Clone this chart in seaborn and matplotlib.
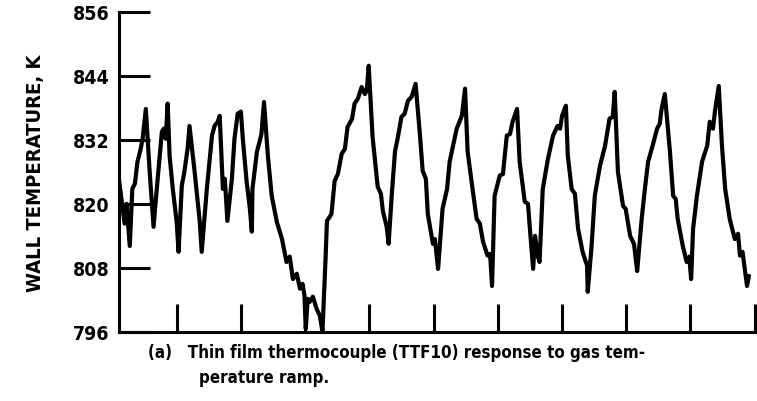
import numpy as np
import pandas as pd
import seaborn as sns
import matplotlib.pyplot as plt

sns.set_theme(style="white")
plt.rcParams["font.family"] = ["DejaVu Sans"]
plt.rcParams["font.stretch"] = "condensed"
plt.rcParams["text.color"] = "black"

# time axis (tick units, unlabeled) and wall temperature
time = [
    0.10, 0.14, 0.19, 0.22, 0.27, 0.31, 0.35, 0.39, 0.44, 0.47, 0.52, 0.58, 0.64, 0.70,
    0.77, 0.80, 0.83, 0.86, 0.89, 0.94, 1.00, 1.03, 1.08, 1.12, 1.17, 1.20, 1.28, 1.36,
    1.39, 1.47, 1.55, 1.59, 1.64, 1.67, 1.72, 1.75, 1.79, 1.86, 1.90, 1.95, 2.00, 2.03,
    2.09, 2.14, 2.17, 2.18, 2.25, 2.29, 2.32, 2.36, 2.42, 2.48, 2.56, 2.64, 2.71, 2.76,
    2.81, 2.87, 2.92, 2.96, 2.99, 3.01, 3.04, 3.07, 3.12, 3.18, 3.23, 3.27, 3.32, 3.34,
    3.41, 3.46, 3.51, 3.57, 3.62, 3.66, 3.73, 3.77, 3.82, 3.88, 3.93, 3.96, 3.99, 4.05,
    4.13, 4.18, 4.21, 4.27, 4.30, 4.35, 4.40, 4.44, 4.50, 4.55, 4.60, 4.66, 4.72, 4.79,
    4.83, 4.88, 4.91, 4.99, 5.02, 5.07, 5.14, 5.21, 5.25, 5.31, 5.36, 5.44, 5.49, 5.53,
    5.60, 5.67, 5.72, 5.77, 5.84, 5.88, 5.91, 5.95, 6.03, 6.08, 6.14, 6.19, 6.23, 6.30,
    6.34, 6.42, 6.47, 6.50, 6.55, 6.58, 6.62, 6.65, 6.70, 6.78, 6.86, 6.93, 6.97, 7.00,
    7.06, 7.09, 7.15, 7.20, 7.25, 7.32, 7.39, 7.40, 7.46, 7.51, 7.59, 7.67, 7.74, 7.79,
    7.82, 7.87, 7.95, 7.99, 8.06, 8.12, 8.17, 8.24, 8.29, 8.34, 8.41, 8.48, 8.52, 8.55,
    8.60, 8.68, 8.73, 8.77, 8.80, 8.88, 8.94, 8.98, 9.01, 9.04, 9.10, 9.18, 9.26, 9.30,
    9.35, 9.38, 9.44, 9.49, 9.54, 9.61, 9.69, 9.74, 9.77, 9.81, 9.85, 9.88, 9.91,
]
wall_temp = [
    824.7, 820.9, 816.3, 820.0, 812.1, 822.8, 823.8, 827.9, 830.3, 832.2, 837.8, 826.0, 815.7, 824.1,
    833.5, 834.1, 832.2, 838.8, 829.0, 822.8, 816.6, 811.0, 823.4, 826.0, 830.3, 834.6, 826.0, 816.6,
    811.0, 822.8, 832.8, 834.6, 835.4, 836.5, 822.8, 824.7, 816.8, 824.7, 832.2, 836.9, 837.3, 832.2,
    824.1, 819.1, 814.8, 822.8, 829.8, 831.6, 833.1, 839.1, 829.0, 821.5, 816.6, 813.4, 809.1, 810.1,
    805.9, 806.9, 804.1, 805.0, 802.8, 796.6, 802.2, 801.6, 802.6, 800.3, 799.0, 796.0, 810.3, 816.8,
    818.1, 824.3, 825.6, 829.4, 830.3, 834.4, 835.9, 838.8, 839.7, 841.9, 840.6, 841.2, 845.9, 832.6,
    823.2, 821.9, 818.7, 815.7, 812.5, 821.9, 829.9, 832.2, 836.3, 836.9, 839.3, 840.1, 842.5, 832.6,
    826.2, 824.7, 818.1, 812.5, 813.4, 807.8, 819.1, 822.8, 827.9, 831.3, 834.1, 836.5, 841.6, 829.8,
    823.4, 817.2, 816.3, 812.9, 810.3, 810.6, 804.6, 821.5, 825.3, 825.6, 832.8, 833.1, 835.4, 837.8,
    827.9, 820.4, 820.0, 815.3, 807.8, 814.0, 810.3, 809.1, 822.8, 828.4, 832.8, 834.6, 834.1, 836.5,
    838.4, 829.0, 822.8, 821.9, 815.3, 811.0, 808.4, 803.5, 812.1, 821.5, 827.1, 830.9, 836.0, 836.3,
    841.0, 826.0, 819.6, 819.1, 814.0, 812.5, 807.4, 817.2, 822.8, 827.9, 830.9, 834.1, 835.0, 837.8,
    840.6, 829.8, 821.5, 820.9, 817.2, 812.1, 809.1, 810.1, 805.9, 815.3, 821.5, 827.9, 830.9, 835.4,
    834.1, 837.3, 842.1, 830.9, 822.8, 817.2, 813.4, 814.4, 810.3, 811.0, 807.3, 804.6, 806.5,
]
y_ticks = [796, 808, 820, 832, 844, 856]
x_ticks = [1, 2, 3, 4, 5, 6, 7, 8, 9, 10]

df = pd.DataFrame({"time": time, "wall_temp": wall_temp})

fig = plt.figure(figsize=(7.57, 4.02), dpi=100)
ax = fig.add_axes([0.157, 0.172, 0.84, 0.796])

sns.lineplot(data=df, x="time", y="wall_temp", estimator=None, sort=False,
             color="black", linewidth=3.0, ax=ax)

ax.set_xlim(0.1, 10)
ax.set_ylim(796, 856)
ax.set_xticks(x_ticks)
ax.set_xticklabels([])
ax.set_yticks(y_ticks)
ax.set_yticklabels([str(v) for v in y_ticks], fontsize=14, fontweight="bold")
ax.tick_params(axis="y", left=True, direction="in", length=22, width=2.2, pad=7,
               colors="black")
ax.tick_params(axis="x", bottom=True, direction="in", length=20, width=2.2,
               colors="black")
ax.set_xlabel("")
ax.set_ylabel("WALL TEMPERATURE, K", fontsize=14.5, fontweight="bold", labelpad=20,
              color="black")
sns.despine(ax=ax)
for side in ["left", "bottom"]:
    ax.spines[side].set_linewidth(2.2)
    ax.spines[side].set_color("black")

fig.text(0.196, 0.122, "(a)   Thin film thermocouple (TTF10) response to gas tem-",
         fontsize=12.2, fontweight="bold", va="center", color="black")
fig.text(0.263, 0.06, "perature ramp.", fontsize=12.2, fontweight="bold", va="center",
         color="black")

plt.savefig("out.png", dpi=100)
plt.close()
